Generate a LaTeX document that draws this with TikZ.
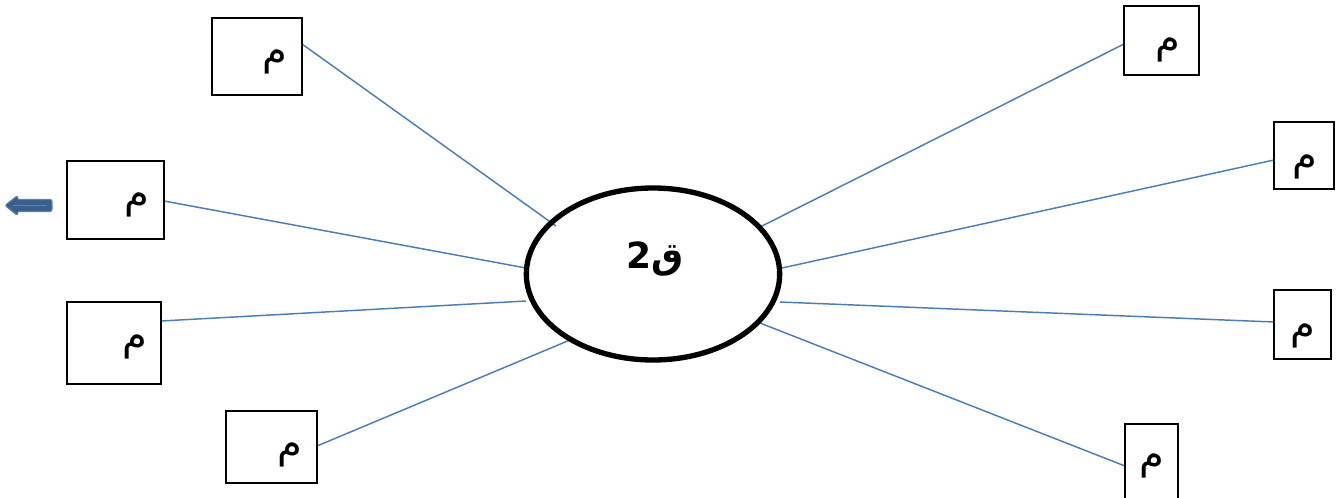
\documentclass[tikz,border=0pt]{standalone}
\usepackage{fontspec}
\TeXXeTstate=1
\newfontfamily\arabicfont[Script=Arabic]{DejaVu Sans}
\usetikzlibrary{shapes.geometric}
\definecolor{conn}{HTML}{4A7EBB}
\definecolor{arrfill}{HTML}{3A5F8E}
\definecolor{arredge}{HTML}{5B84B5}
\tikzset{
  box/.style={draw=black, line width=1pt, fill=white, inner sep=0pt},
  meem/.style={font=\arabicfont\fontsize{30}{36}\selectfont, inner sep=0pt},
  conline/.style={draw=conn, line width=1.1pt},
}
\begin{document}
\begin{tikzpicture}[x=0.75pt,y=-0.75pt]
\useasboundingbox (0,0) rectangle (1340,497);
\fill[white] (0,0) rectangle (1340,497);
% connectors first (drawn under the ellipse fill)
\coordinate (s1) at (302,44);
\coordinate (s2) at (164,201);
\coordinate (s3) at (161,321);
\coordinate (s4) at (317,446);
\coordinate (s5) at (1124,44);
\coordinate (s6) at (1274,160);
\coordinate (s7) at (1274,322);
\coordinate (s8) at (1125,466);
\coordinate (e1) at (556,226);
\coordinate (e2) at (526,268);
\coordinate (e3) at (526,301);
\coordinate (e4) at (570,340);
\coordinate (e5) at (760,227);
\coordinate (e6) at (782,268);
\coordinate (e7) at (780,302);
\coordinate (e8) at (760,323);
\foreach \i in {1,...,8} {\draw[conline] (s\i) -- (e\i);}
% central ellipse
\node[ellipse, draw=black, line width=4pt, minimum width=190pt, minimum height=129pt] (core) at (653,274) {};
\node[font=\arabicfont\bfseries\fontsize{27}{32}\selectfont, inner sep=0pt] (corelabel) at (655,259) {\beginR ق2\endR};
% boxes
\node[box, minimum width=67.5pt, minimum height=57.75pt] (b1) at (257,56.5) {};
\node[box, minimum width=72.75pt, minimum height=58.5pt] (b2) at (115.5,200) {};
\node[box, minimum width=70.5pt, minimum height=61.5pt] (b3) at (114,343) {};
\node[box, minimum width=68.25pt, minimum height=54pt] (b4) at (271.5,447) {};
\node[box, minimum width=56.25pt, minimum height=51.75pt] (b5) at (1161.5,40.5) {};
\node[box, minimum width=45pt, minimum height=50.25pt] (b6) at (1304,155.5) {};
\node[box, minimum width=42.75pt, minimum height=51.75pt] (b7) at (1302.5,324.5) {};
\node[box, minimum width=39.75pt, minimum height=60pt] (b8) at (1151.5,464) {};
% labels
\node[meem] (m1) at (275,62) {\beginR م\endR};
\node[meem] (m2) at (137,205) {\beginR م\endR};
\node[meem] (m3) at (135,347) {\beginR م\endR};
\node[meem] (m4) at (290,455) {\beginR م\endR};
\node[meem] (m5) at (1168,50) {\beginR م\endR};
\node[meem] (m6) at (1305,167) {\beginR م\endR};
\node[meem] (m7) at (1303,336) {\beginR م\endR};
\node[meem] (m8) at (1152,466) {\beginR م\endR};
% left block arrow
\draw[fill=arrfill, draw=arredge, line width=0.8pt, rounded corners=1.5pt]
  (5,205.5) -- (17.5,195.5) -- (17.5,199.5) -- (52,199.5) -- (52,211.5) -- (17.5,211.5) -- (17.5,215.5) -- cycle;
\draw[draw=arredge, line width=1.2pt] (13,205.5) -- (47,205.5);
\end{tikzpicture}
\end{document}
